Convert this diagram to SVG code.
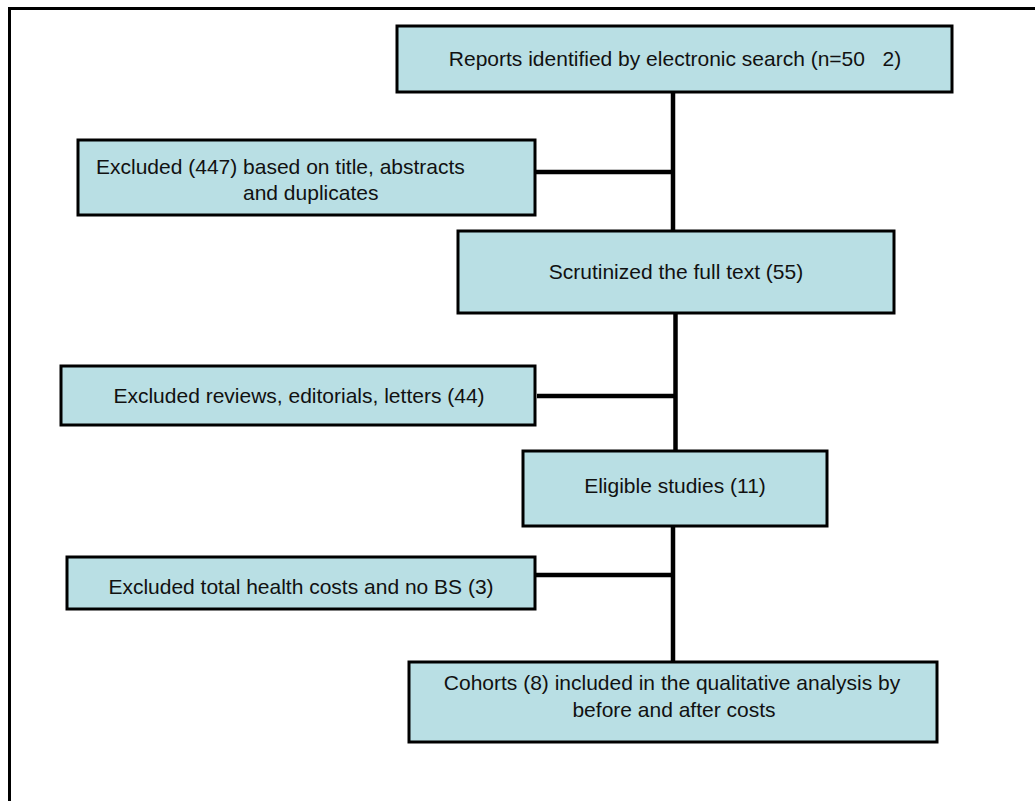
<svg xmlns="http://www.w3.org/2000/svg" width="1035" height="801" viewBox="0 0 1035 801">
<style>
.box{fill:#b9dfe4;stroke:#000;stroke-width:3}
.t{font-family:"Liberation Sans",Arial,sans-serif;font-size:21px;fill:#111;text-anchor:middle;white-space:pre}
.s{text-anchor:start}
.c{stroke:#000;stroke-width:4.5;fill:none}
</style>
<rect width="1035" height="801" fill="#fff"/>
<path d="M9.5 801V8.5H1035" fill="none" stroke="#000" stroke-width="3"/>
<g id="connectors">
<path class="c" d="M673 92V231"/>
<path class="c" d="M535 172H673"/>
<path class="c" d="M675.5 313V451"/>
<path class="c" d="M537 396H675.5"/>
<path class="c" d="M673 526V662"/>
<path class="c" d="M535 575H673"/>
</g>
<g id="n1"><rect class="box" x="397" y="26" width="555" height="66"/><text class="t" x="675" y="66" xml:space="preserve">Reports identified by electronic search (n=50   2)</text></g>
<g id="n2"><rect class="box" x="78" y="140" width="457" height="75"/><text class="t s" x="96" y="174">Excluded (447) based on title, abstracts</text><text class="t s" x="243" y="200">and duplicates</text></g>
<g id="n3"><rect class="box" x="458" y="231" width="436" height="82"/><text class="t" x="676" y="279">Scrutinized the full text (55)</text></g>
<g id="n4"><rect class="box" x="61" y="366" width="474" height="59"/><text class="t" x="299" y="403">Excluded reviews, editorials, letters (44)</text></g>
<g id="n5"><rect class="box" x="523" y="451" width="304" height="75"/><text class="t" x="675" y="493">Eligible studies (11)</text></g>
<g id="n6"><rect class="box" x="67" y="557" width="468" height="52"/><text class="t" x="301" y="594">Excluded total health costs and no BS (3)</text></g>
<g id="n7"><rect class="box" x="409" y="662" width="528" height="80"/><text class="t" x="672" y="690">Cohorts (8) included in the qualitative analysis by</text><text class="t" x="674" y="717">before and after costs</text></g>
</svg>
